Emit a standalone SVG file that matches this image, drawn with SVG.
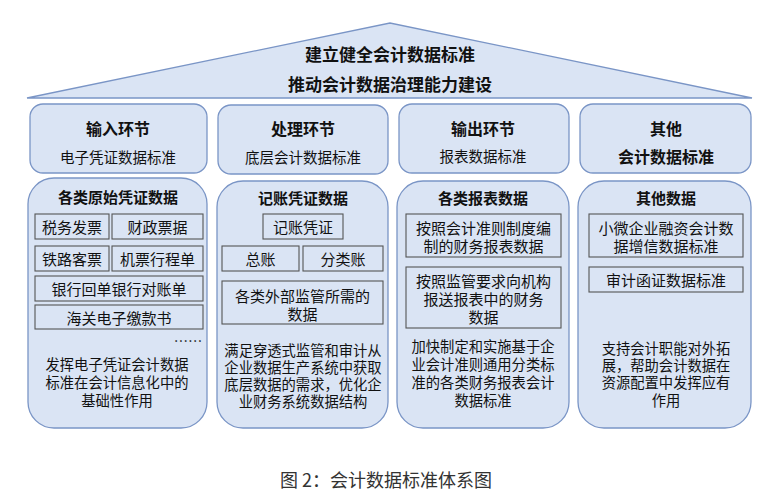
<svg xmlns="http://www.w3.org/2000/svg" width="779" height="503" viewBox="0 0 779 503">
<style>
.shape{fill:#dae4f4;stroke:#7a95c6;stroke-width:1.3}
.sub{fill:#dae4f4;stroke:#555;stroke-width:1.1}
text{font-family:"Noto Sans CJK SC","Noto Sans",sans-serif;fill:#111;text-anchor:middle;dominant-baseline:central}
.t1{font-size:17px;font-weight:bold}
.h{font-size:16px;font-weight:bold}
.h2{font-size:15px;font-weight:bold}
.s{font-size:14.5px}
.b{font-size:15px}
.d{font-size:14.3px}
.cap{font-size:18px;fill:#333}
</style>
<rect width="779" height="503" fill="#ffffff"/>
<g id="roof">
<polygon class="shape" points="27,98 390,23 752,98"/>
<text class="t1" x="390" y="53">建立健全会计数据标准</text>
<text class="t1" x="390" y="83">推动会计数据治理能力建设</text>
</g>
<g id="input-stage">
<rect class="shape" x="30" y="104" width="177" height="69" rx="13"/>
<text class="h" x="118" y="128">输入环节</text>
<text class="s" x="118" y="156">电子凭证数据标准</text>
</g>
<g id="process-stage">
<rect class="shape" x="218" y="105" width="170" height="69" rx="13"/>
<text class="h" x="303" y="128">处理环节</text>
<text class="s" x="303" y="156">底层会计数据标准</text>
</g>
<g id="output-stage">
<rect class="shape" x="399" y="104" width="170" height="69" rx="13"/>
<text class="h" x="483" y="128">输出环节</text>
<text class="s" x="483" y="155">报表数据标准</text>
</g>
<g id="other-stage">
<rect class="shape" x="580" y="104" width="171" height="69" rx="13"/>
<text class="h" x="666" y="128">其他</text>
<text class="h" x="666" y="156">会计数据标准</text>
</g>
<g id="voucher-data">
<rect class="shape" x="28" y="178" width="179" height="250" rx="26"/>
<text class="h2" x="118" y="196">各类原始凭证数据</text>
<rect class="sub" x="35" y="214" width="74" height="25"/>
<text class="b" x="72" y="226.5">税务发票</text>
<rect class="sub" x="112" y="214" width="91" height="25"/>
<text class="b" x="157.5" y="226.5">财政票据</text>
<rect class="sub" x="35" y="246" width="74" height="25"/>
<text class="b" x="72" y="258.5">铁路客票</text>
<rect class="sub" x="112" y="246" width="91" height="25"/>
<text class="b" x="157.5" y="258.5">机票行程单</text>
<rect class="sub" x="35" y="276" width="168" height="25"/>
<text class="b" x="119" y="288.5">银行回单银行对账单</text>
<rect class="sub" x="35" y="305" width="168" height="24"/>
<text class="b" x="119" y="317">海关电子缴款书</text>
<text class="d" x="188" y="340">……</text>
<text class="d" x="117" y="363">发挥电子凭证会计数据</text>
<text class="d" x="117" y="381">标准在会计信息化中的</text>
<text class="d" x="117" y="399">基础性作用</text>
</g>
<g id="ledger-data">
<rect class="shape" x="217" y="181" width="171" height="247" rx="26"/>
<text class="h2" x="303" y="197">记账凭证数据</text>
<rect class="sub" x="263" y="214" width="80" height="25"/>
<text class="b" x="303" y="226.5">记账凭证</text>
<rect class="sub" x="222" y="246" width="77" height="25"/>
<text class="b" x="260.5" y="258.5">总账</text>
<rect class="sub" x="303" y="246" width="80" height="25"/>
<text class="b" x="343" y="258.5">分类账</text>
<rect class="sub" x="222" y="281" width="161" height="43"/>
<text class="b" x="302.5" y="295">各类外部监管所需的</text>
<text class="b" x="302.5" y="313">数据</text>
<text class="d" x="303" y="349">满足穿透式监管和审计从</text>
<text class="d" x="303" y="366">企业数据生产系统中获取</text>
<text class="d" x="303" y="383">底层数据的需求，优化企</text>
<text class="d" x="303" y="400">业财务系统数据结构</text>
</g>
<g id="report-data">
<rect class="shape" x="397" y="181" width="172" height="247" rx="26"/>
<text class="h2" x="483" y="197">各类报表数据</text>
<rect class="sub" x="406" y="214" width="155" height="43"/>
<text class="b" x="483.5" y="227">按照会计准则制度编</text>
<text class="b" x="483.5" y="245">制的财务报表数据</text>
<rect class="sub" x="406" y="267" width="155" height="61"/>
<text class="b" x="483.5" y="280">按照监管要求向机构</text>
<text class="b" x="483.5" y="298">报送报表中的财务</text>
<text class="b" x="483.5" y="316">数据</text>
<text class="d" x="483" y="345">加快制定和实施基于企</text>
<text class="d" x="483" y="363">业会计准则通用分类标</text>
<text class="d" x="483" y="381">准的各类财务报表会计</text>
<text class="d" x="483" y="399">数据标准</text>
</g>
<g id="other-data">
<rect class="shape" x="578" y="181" width="173" height="247" rx="26"/>
<text class="h2" x="666" y="197">其他数据</text>
<rect class="sub" x="589" y="214" width="154" height="43"/>
<text class="b" x="666" y="227">小微企业融资会计数</text>
<text class="b" x="666" y="245">据增信数据标准</text>
<rect class="sub" x="589" y="267" width="154" height="25"/>
<text class="b" x="666" y="279.5">审计函证数据标准</text>
<text class="d" x="666" y="347">支持会计职能对外拓</text>
<text class="d" x="666" y="364">展，帮助会计数据在</text>
<text class="d" x="666" y="381">资源配置中发挥应有</text>
<text class="d" x="666" y="399">作用</text>
</g>
<g id="connectors"></g>
<text class="cap" x="386" y="479">图 2：会计数据标准体系图</text>
</svg>
